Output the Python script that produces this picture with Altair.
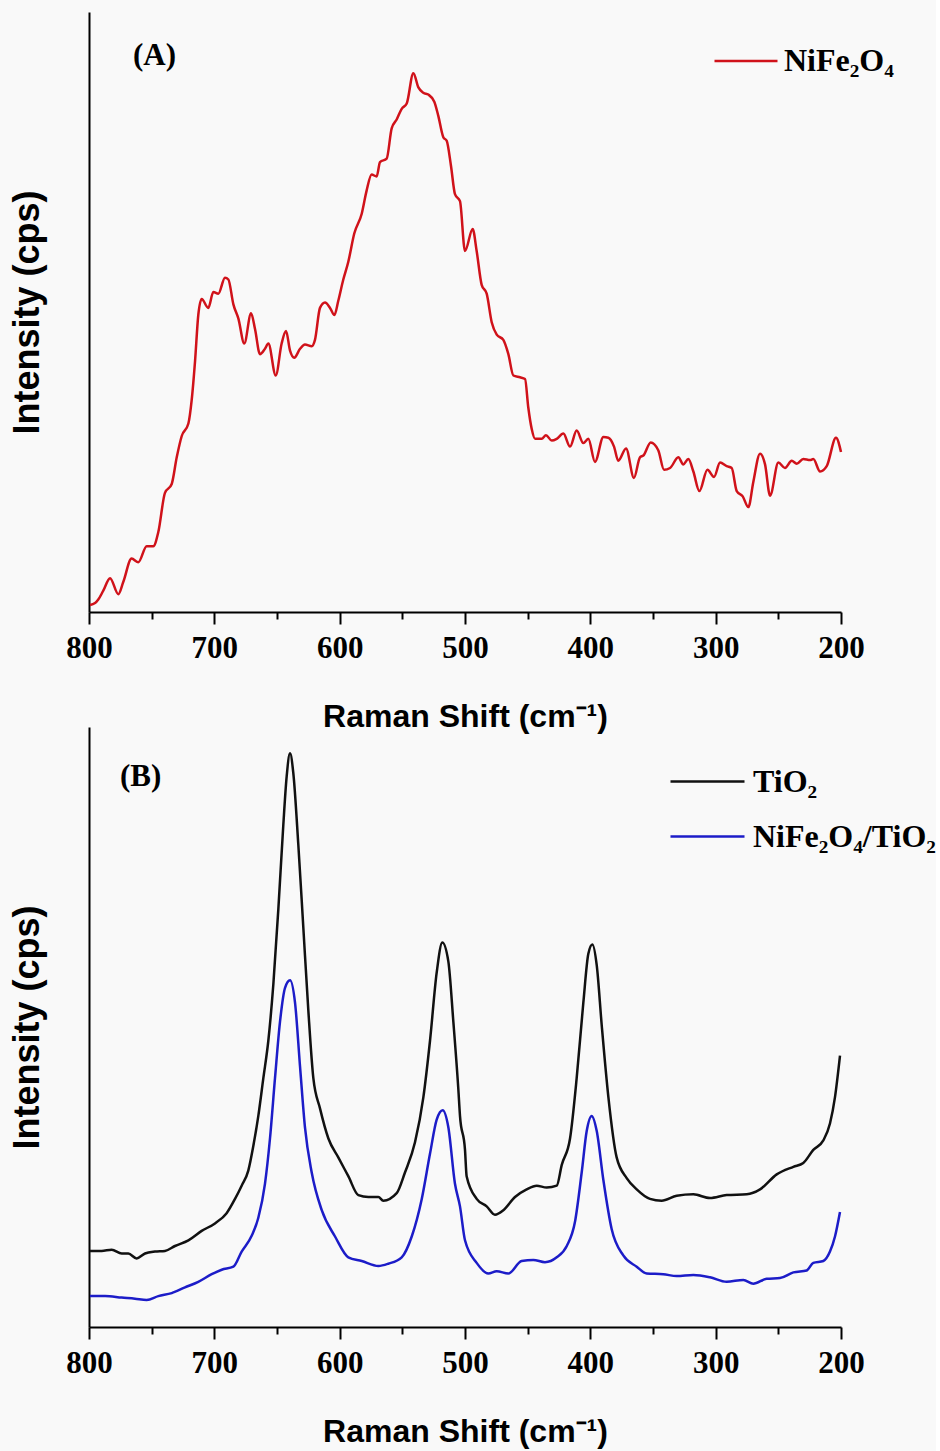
import altair as alt
import pandas as pd

# ---------------- Panel A: NiFe2O4 ----------------
A_shift = [799.2, 795.2, 792.6, 788.6, 783.2, 776.6, 772.6, 766.0, 760.6, 754.0, 748.7, 744.7,
           739.4, 734.0, 730.0, 726.0, 720.7, 718.1, 715.4, 712.8, 710.1, 704.8, 700.8, 696.8,
           691.5, 688.8, 684.8, 680.8, 676.1, 670.7, 667.5, 663.6, 659.6, 656.9, 651.0, 646.3,
           642.8, 639.6, 636.2, 631.6, 627.7, 622.3, 619.7, 615.7, 611.7, 607.7, 604.2, 601.1,
           597.1, 593.1, 588.3, 582.4, 578.5, 574.5, 570.5, 567.8, 562.5, 558.5, 554.5, 550.5,
           546.5, 541.2, 537.2, 533.2, 529.3, 524.5, 521.3, 517.3, 514.6, 511.2, 508.0, 504.0,
           500.0, 493.9, 490.7, 486.7, 482.7, 478.7, 474.7, 469.4, 465.4, 461.4, 456.1, 452.1,
           449.5, 446.8, 444.1, 438.8, 435.4, 430.8, 426.8, 421.5, 416.2, 410.9, 405.6, 401.6,
           396.3, 389.6, 385.6, 381.1, 377.7, 371.5, 365.2, 360.4, 357.7, 351.8, 345.8, 341.2,
           336.4, 329.8, 325.8, 321.8, 317.8, 313.0, 306.6, 301.3, 296.5, 291.2, 287.2, 283.2,
           278.4, 273.9, 270.0, 264.6, 260.6, 256.6, 250.0, 244.7, 239.3, 235.3, 230.1, 224.7,
           222.1, 216.7, 211.4, 204.0, 200.0]
A_int = [7.1, 8.9, 12.5, 21.3, 33.8, 17.8, 30.2, 53.4, 49.8, 65.8, 65.8, 80.0,
         119.1, 128.0, 154.7, 176.0, 188.5, 211.6, 250.7, 297.0, 313.0, 304.1, 320.1, 318.3,
         334.3, 332.5, 307.6, 293.4, 268.5, 298.7, 282.7, 257.8, 263.2, 268.5, 236.5, 268.5,
         281.0, 261.4, 254.3, 263.2, 267.4, 265.7, 272.1, 304.1, 309.4, 304.1, 297.0, 311.2,
         332.5, 350.3, 378.7, 398.3, 421.4, 437.4, 435.6, 449.9, 453.4, 483.7, 492.5, 503.2,
         508.5, 538.8, 524.6, 519.2, 517.4, 510.3, 496.1, 474.8, 471.2, 446.3, 417.9, 410.8,
         361.0, 383.0, 361.0, 327.2, 318.3, 289.8, 277.4, 272.1, 257.8, 236.5, 234.7, 233.0,
         204.5, 183.2, 173.2, 173.2, 176.8, 171.4, 173.2, 178.5, 165.4, 181.4, 168.9, 173.2,
         150.1, 175.0, 174.3, 165.4, 151.2, 163.6, 134.1, 154.7, 156.5, 169.6, 161.8, 142.3,
         144.0, 154.7, 147.6, 153.0, 140.5, 120.9, 142.3, 135.1, 149.4, 145.8, 144.0, 120.9,
         115.6, 104.9, 129.8, 158.3, 147.6, 116.3, 149.4, 144.0, 151.2, 148.3, 153.0, 151.9,
         153.0, 140.5, 145.8, 174.3, 160.0]

# ---------------- Panel B: TiO2 and NiFe2O4/TiO2 ----------------
B_tio2_shift = [799.2, 789.9, 781.9, 773.9, 768.6, 762.0, 755.3, 747.3, 739.4, 731.4, 720.7, 710.1,
                699.5, 690.2, 683.5, 678.2, 672.9, 668.9, 664.9, 660.9, 656.9, 652.9, 648.9, 645.0,
                642.3, 639.6, 637.0, 633.0, 629.0, 625.0, 621.0, 615.7, 609.0, 601.1, 593.1, 585.1,
                577.1, 569.1, 565.2, 554.5, 547.9, 539.9, 533.2, 527.9, 522.6, 518.1, 513.3, 509.3,
                505.3, 504.0, 500.0, 498.7, 490.7, 482.7, 476.1, 469.4, 460.1, 450.8, 442.8, 434.8,
                426.8, 422.8, 416.2, 410.9, 405.6, 401.6, 398.4, 394.9, 390.9, 385.6, 379.0, 371.0,
                363.0, 352.4, 343.1, 331.1, 317.8, 304.5, 291.2, 275.2, 264.6, 251.3, 238.0, 230.1,
                222.1, 214.1, 208.8, 204.8, 200.8]
B_tio2_int = [76.1, 76.1, 77.3, 73.5, 73.5, 68.6, 73.5, 75.4, 76.1, 81.0, 86.7, 96.1,
              103.6, 113.8, 128.1, 141.3, 156.4, 180.9, 211.1, 248.8, 286.5, 343.0, 418.4, 501.3,
              550.3, 573.7, 554.1, 482.5, 399.5, 316.6, 248.8, 218.6, 188.5, 169.6, 150.8, 131.9,
              130.0, 130.0, 126.3, 133.8, 154.5, 184.7, 229.9, 286.5, 354.3, 384.5, 365.6, 305.3,
              237.5, 211.1, 177.1, 150.8, 128.1, 120.6, 112.3, 116.8, 130.0, 137.6, 141.3, 139.4,
              141.3, 162.1, 188.5, 248.8, 324.1, 373.2, 382.6, 361.8, 301.5, 229.9, 169.6, 148.9,
              137.6, 128.1, 126.3, 131.2, 132.7, 128.9, 131.9, 132.7, 137.6, 152.6, 160.2, 164.0,
              177.1, 186.6, 203.5, 229.9, 271.4]

B_comp_shift = [799.2, 787.2, 773.9, 763.3, 754.0, 744.7, 734.0, 723.4, 712.8, 702.1, 694.1, 684.8,
                678.2, 670.2, 664.9, 659.6, 655.6, 651.6, 647.6, 643.6, 639.6, 635.6, 631.6, 627.7,
                622.3, 614.3, 603.7, 593.1, 582.4, 569.1, 561.2, 550.5, 542.5, 534.5, 527.9, 522.6,
                517.8, 513.3, 508.0, 504.0, 500.0, 490.7, 481.4, 474.7, 465.4, 454.8, 445.5, 436.2,
                426.8, 418.8, 412.2, 406.9, 402.9, 398.9, 394.9, 389.6, 383.0, 373.7, 363.0, 355.0,
                341.8, 331.1, 317.8, 304.5, 291.2, 277.9, 270.0, 259.3, 248.7, 238.0, 227.4, 222.1,
                214.1, 208.8, 204.8, 200.8]
B_comp_int = [30.9, 30.9, 29.4, 28.3, 27.1, 30.9, 33.9, 39.6, 45.2, 52.8, 57.3, 60.3,
              75.4, 91.2, 109.3, 143.2, 188.5, 248.8, 305.3, 339.2, 346.8, 324.1, 260.1, 199.8,
              154.5, 116.8, 90.5, 69.7, 66.0, 61.0, 63.3, 69.7, 90.5, 128.0, 173.4, 207.3,
              216.7, 199.8, 143.2, 120.6, 86.7, 64.1, 53.5, 55.8, 53.5, 66.0, 67.1, 64.8,
              69.7, 81.0, 105.5, 154.5, 196.0, 211.1, 196.0, 147.0, 98.0, 71.6, 60.3, 53.5,
              52.8, 50.9, 52.0, 49.7, 45.2, 47.1, 43.3, 48.2, 49.0, 54.6, 56.5, 64.1,
              66.0, 75.4, 90.5, 115.0]

A_names = ["NiFe₂O₄"]
A_colors = ["#d0121a"]
B_names = ["TiO₂", "NiFe₂O₄/TiO₂"]
B_colors = ["#111111", "#1c1cc8"]
x_ticks = [800, 750, 700, 650, 600, 550, 500, 450, 400, 350, 300, 250, 200]

dfA = pd.DataFrame({"shift": A_shift, "intensity": A_int, "sample": A_names[0]})
dfB = pd.concat([
    pd.DataFrame({"shift": B_tio2_shift, "intensity": B_tio2_int, "sample": B_names[0]}),
    pd.DataFrame({"shift": B_comp_shift, "intensity": B_comp_int, "sample": B_names[1]}),
], ignore_index=True)

W, H = 752, 600
SERIF = "Liberation Serif"
SANS = "Liberation Sans"

x_axis = alt.Axis(
    values=x_ticks,
    labelExpr="datum.value % 100 === 0 ? datum.label : ''",
    tickSize={"condition": {"test": "datum.value % 100 === 0", "value": 12}, "value": 7},
    tickWidth=2, tickColor="black",
    domainWidth=2, domainColor="black",
    labelFont=SERIF, labelFontWeight="bold", labelFontSize=31, labelColor="black",
    labelPadding=9, labelFlush=False, labelOverlap=False,
    grid=False,
    title="Raman Shift (cm⁻¹)",
    titleFont=SANS, titleFontWeight="bold", titleFontSize=32, titleColor="black",
    titleBaseline="alphabetic", titleY=114,
)
y_axis = alt.Axis(
    labels=False, ticks=False, grid=False,
    domainWidth=2, domainColor="black",
    title="Intensity (cps)",
    titleFont=SANS, titleFontWeight="bold", titleFontSize=36, titleColor="black",
    titleBaseline="alphabetic", titleX=-51,
)


def legend(x, y, size, offset):
    return alt.Legend(
        title=None, orient="none", legendX=x, legendY=y,
        symbolType="stroke", symbolSize=size, symbolStrokeWidth=2.5,
        labelFont=SERIF, labelFontWeight="bold", labelFontSize=32, labelColor="black",
        labelOffset=offset, labelLimit=0, rowPadding=-4, padding=0,
    )


def panel(df, names, colors, leg, label, lx, ly):
    lines = alt.Chart(df).mark_line(strokeWidth=2.5, interpolate="monotone").encode(
        x=alt.X("shift:Q", scale=alt.Scale(domain=[200, 800], reverse=True, nice=False, zero=False),
                axis=x_axis),
        y=alt.Y("intensity:Q", scale=alt.Scale(domain=[0, 600], nice=False, zero=False),
                axis=y_axis),
        color=alt.Color("sample:N", scale=alt.Scale(domain=names, range=colors), legend=leg),
        order=alt.Order("row:Q"),
    ).transform_window(row="row_number()")
    tag = alt.Chart(pd.DataFrame({"t": [label]})).mark_text(
        font=SERIF, fontWeight="bold", fontSize=31, color="black", align="left", baseline="middle"
    ).encode(text="t:N", x=alt.value(lx), y=alt.value(ly))
    return alt.layer(lines, tag).properties(width=W, height=H)


pA = panel(dfA, A_names, A_colors, legend(624, 16, 3969, 5), "(A)", 44, 44)
pB = panel(dfB, B_names, B_colors, legend(580, 16, 5476, 7), "(B)", 31, 50)

chart = alt.vconcat(pA, pB, spacing=115, bounds="flush").resolve_scale(
    color="independent"
).resolve_legend(color="independent").properties(
    padding={"left": 9, "top": 12, "right": 0, "bottom": 5},
    background="#f9f9f9",
).configure_view(strokeWidth=0)

chart.save("out.html", embed_options={"renderer": "svg", "actions": False})
